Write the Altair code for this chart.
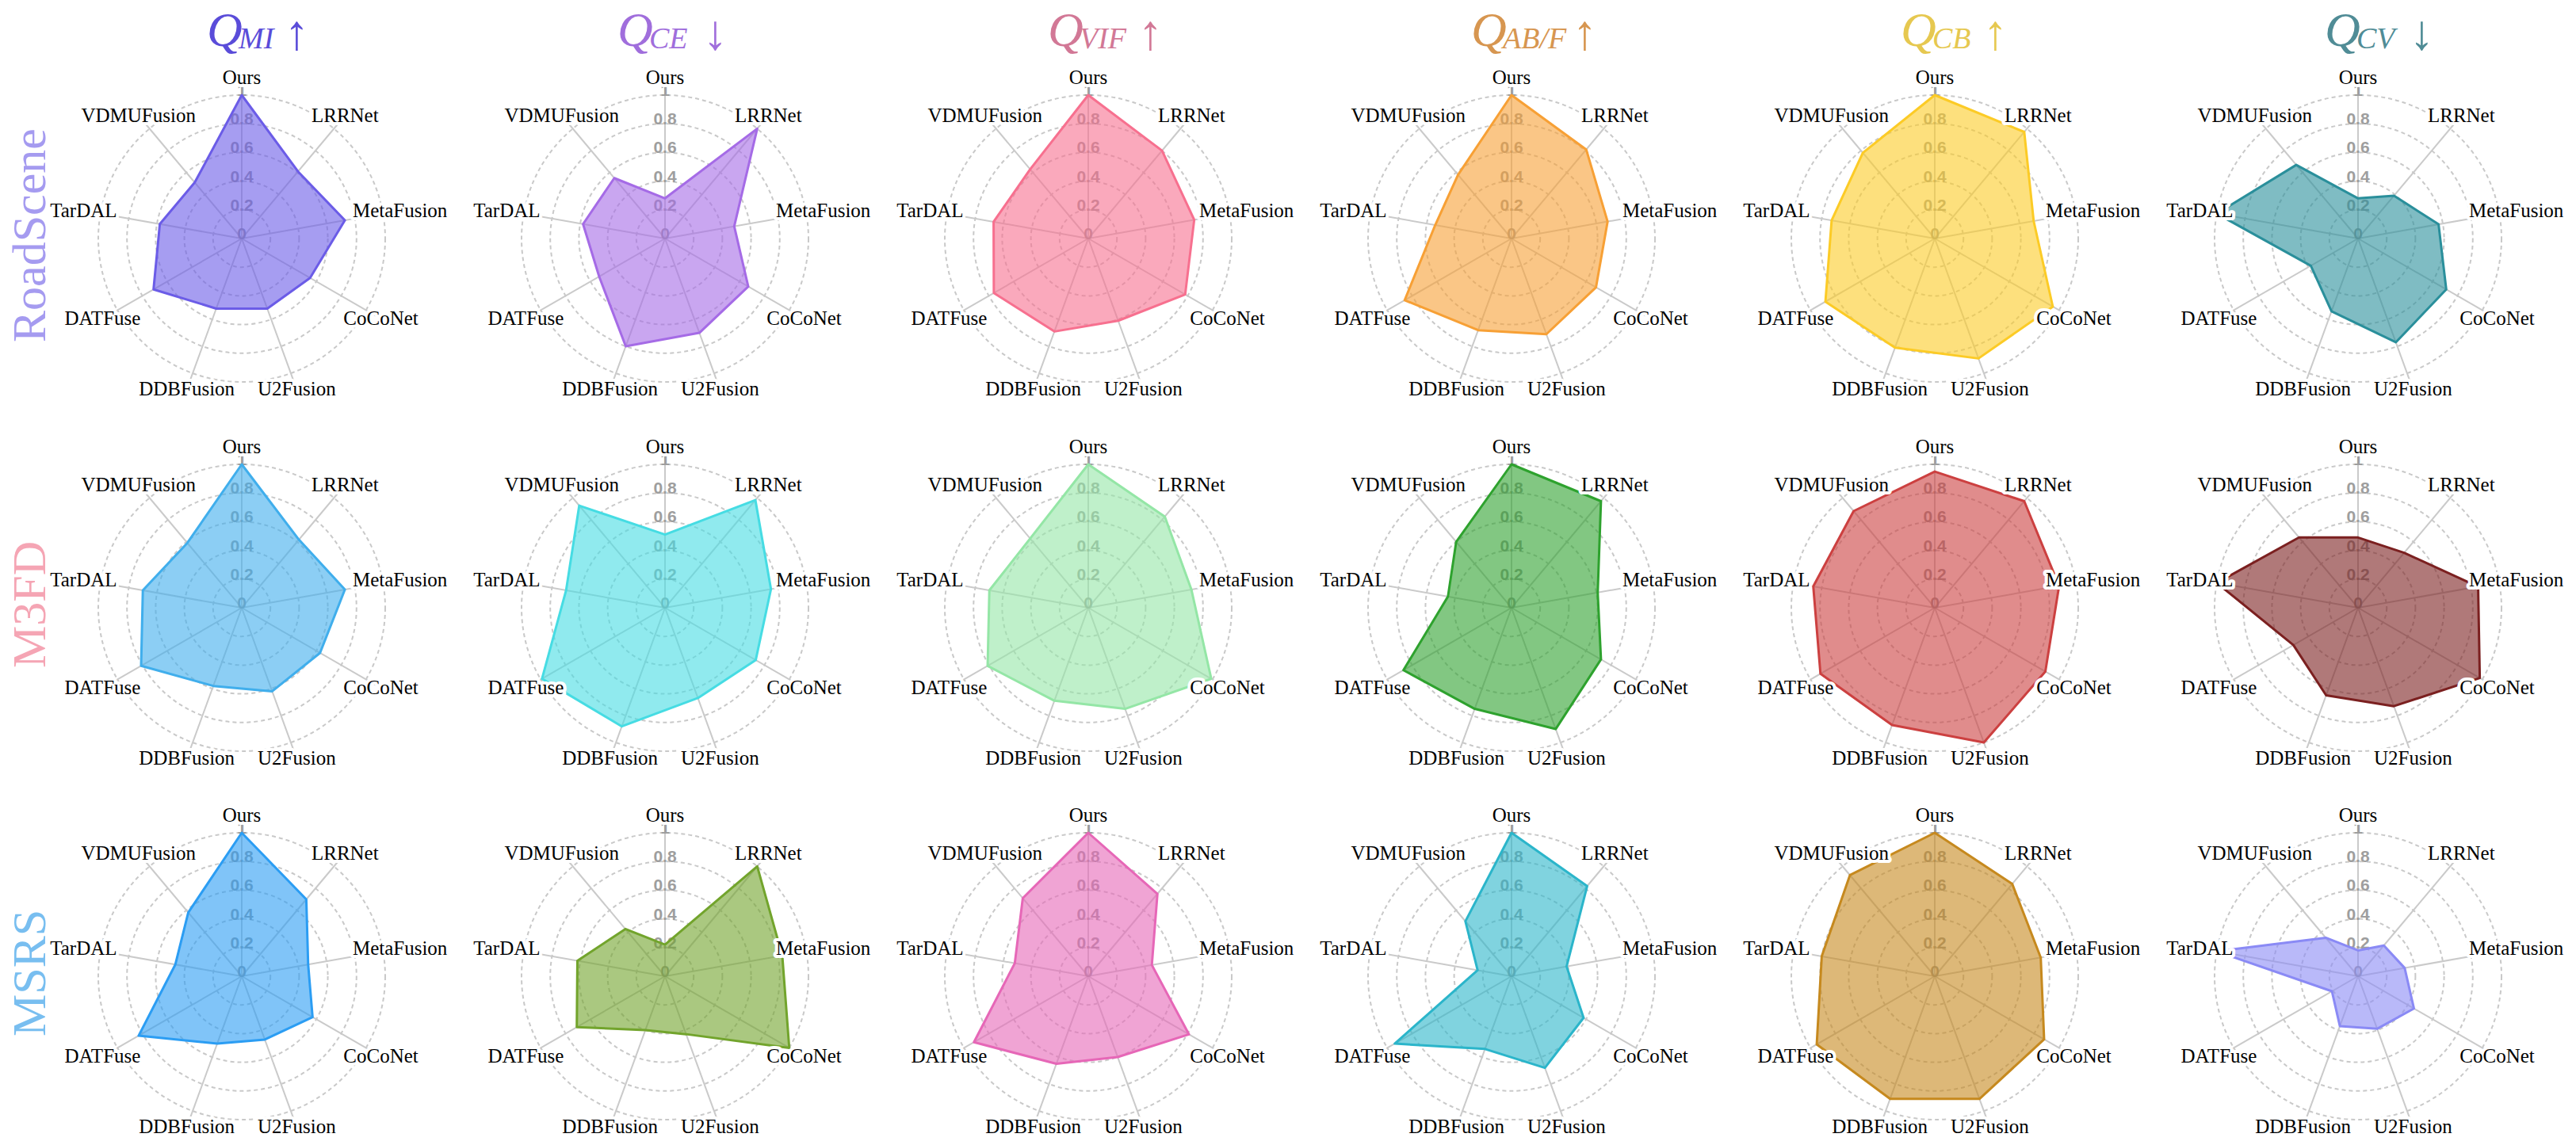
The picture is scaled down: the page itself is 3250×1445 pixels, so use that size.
import math
import altair as alt
import pandas as pd

# ---------------- data ----------------
methods = ["Ours", "LRRNet", "MetaFusion", "CoCoNet", "U2Fusion",
           "DDBFusion", "DATFuse", "TarDAL", "VDMUFusion"]
datasets = ["RoadScene", "M3FD", "MSRS"]
metric_subs = ["MI", "CE", "VIF", "AB/F", "CB", "CV"]
metric_arrows = ["↑", "↓", "↑", "↑", "↑", "↓"]
tick_values = [0, 0.2, 0.4, 0.6, 0.8, 1.0]
tick_labels = ["0", "0.2", "0.4", "0.6", "0.8", "1"]
ring_values = [0.2, 0.4, 0.6, 0.8, 1.0]

# order of every list: Ours, LRRNet, MetaFusion, CoCoNet, U2Fusion, DDBFusion, DATFuse, TarDAL, VDMUFusion
roadscene_mi = [1.00, 0.61, 0.73, 0.55, 0.52, 0.52, 0.71, 0.58, 0.51]
roadscene_ce = [0.28, 1.00, 0.49, 0.67, 0.70, 0.80, 0.53, 0.58, 0.55]
roadscene_vif = [1.00, 0.80, 0.75, 0.78, 0.61, 0.69, 0.76, 0.67, 0.63]
roadscene_abf = [1.00, 0.81, 0.68, 0.68, 0.71, 0.68, 0.86, 0.54, 0.58]
roadscene_cb = [1.00, 0.97, 0.70, 0.95, 0.89, 0.81, 0.88, 0.73, 0.78]
roadscene_cv = [0.28, 0.39, 0.57, 0.71, 0.77, 0.54, 0.38, 1.00, 0.67]

m3fd_mi = [1.00, 0.62, 0.73, 0.63, 0.62, 0.58, 0.81, 0.70, 0.59]
m3fd_ce = [0.51, 0.98, 0.75, 0.73, 0.67, 0.88, 0.99, 0.70, 0.93]
m3fd_vif = [1.00, 0.83, 0.73, 0.99, 0.75, 0.69, 0.81, 0.70, 0.63]
m3fd_abf = [1.00, 0.97, 0.61, 0.72, 0.90, 0.75, 0.87, 0.45, 0.60]
m3fd_cb = [0.95, 0.97, 0.88, 0.89, 1.00, 0.87, 0.92, 0.86, 0.88]
m3fd_cv = [0.49, 0.50, 0.85, 0.98, 0.73, 0.65, 0.52, 1.00, 0.64]

msrs_mi = [1.00, 0.70, 0.47, 0.57, 0.47, 0.50, 0.83, 0.47, 0.58]
msrs_ce = [0.22, 1.00, 0.83, 1.00, 0.43, 0.40, 0.71, 0.62, 0.43]
msrs_vif = [1.00, 0.75, 0.45, 0.81, 0.60, 0.65, 0.92, 0.52, 0.71]
msrs_abf = [1.00, 0.82, 0.39, 0.58, 0.68, 0.54, 0.94, 0.24, 0.50]
msrs_cb = [1.00, 0.84, 0.75, 0.88, 0.91, 0.91, 0.95, 0.80, 0.92]
msrs_cv = [0.18, 0.28, 0.33, 0.45, 0.39, 0.37, 0.21, 1.00, 0.35]

panel_values = [
    [roadscene_mi, roadscene_ce, roadscene_vif, roadscene_abf, roadscene_cb, roadscene_cv],
    [m3fd_mi, m3fd_ce, m3fd_vif, m3fd_abf, m3fd_cb, m3fd_cv],
    [msrs_mi, msrs_ce, msrs_vif, msrs_abf, msrs_cb, msrs_cv],
]

# ---------------- style ----------------
panel_colors = [
    ["#6B5CE7", "#A56BE6", "#F7708F", "#F7A035", "#FCCB26", "#2A8F9B"],
    ["#40AEEC", "#46DCE3", "#94E6A6", "#2EA22E", "#CC4040", "#7B2020"],
    ["#2B9DF3", "#72A42C", "#E667B7", "#2BB5CA", "#C6891E", "#8A8AF5"],
]
title_colors = ["#5A4CD9", "#A06EDC", "#D27896", "#D79650", "#E6C850", "#508C96"]
row_label_colors = ["#A59BF0", "#F5A5B4", "#78BEF0"]

K = 181.0          # pixels for a radius of 1
LEFT0 = 296        # first column: pixels left of centre
HALF_W = 267
ROW_TOP = [226, 233, 232]
ROW_BOT = [233, 233, 203]
TITLE_H = 67
SPOKE_R = 1.08
LABEL_R = 1.12
q_dx = [-44, -60, -51, -51, -43, -42]
arrow_dx = [54, 48, 63, 77, 61, 65]

N = len(methods)
ANG = "PI/2 - datum.idx*2*PI/%d" % N


def panel(vals, color, r, c):
    left = LEFT0 if c == 0 else HALF_W
    W = left + HALF_W
    top, bot = ROW_TOP[r], ROW_BOT[r]
    H = top + bot
    xs = alt.Scale(domain=[-left / K, HALF_W / K], nice=False, zero=False)
    ys = alt.Scale(domain=[-bot / K, top / K], nice=False, zero=False)

    df = pd.DataFrame({"method": methods, "idx": list(range(N)), "value": vals})
    base = alt.Chart(df).transform_calculate(ang=ANG)

    rings = alt.Chart(pd.DataFrame({"r": ring_values})).transform_calculate(
        cx="0", cy="0", s="pow(2*datum.r*%f, 2)" % K
    ).mark_point(
        shape="circle", filled=False, color="#C9C9C9", opacity=1,
        strokeWidth=2, strokeDash=[5, 4]
    ).encode(
        x=alt.X("cx:Q", scale=xs, axis=None),
        y=alt.Y("cy:Q", scale=ys, axis=None),
        size=alt.Size("s:Q", scale=None, legend=None),
    )

    spokes = base.transform_calculate(
        zx="0", zy="0",
        ex="%f*cos(datum.ang)" % SPOKE_R, ey="%f*sin(datum.ang)" % SPOKE_R,
    ).mark_rule(color="#CACACA", strokeWidth=2).encode(
        x=alt.X("zx:Q", scale=xs, axis=None),
        y=alt.Y("zy:Q", scale=ys, axis=None),
        x2="ex:Q", y2="ey:Q",
    )

    ticks = alt.Chart(pd.DataFrame({"t": tick_values, "lab": tick_labels})).transform_calculate(
        zx="0"
    ).mark_text(
        font="Liberation Sans", fontSize=21, fontWeight="bold", color="#9E9E9E",
        dy=-5, baseline="middle", align="center"
    ).encode(
        x=alt.X("zx:Q", scale=xs, axis=None),
        y=alt.Y("t:Q", scale=ys, axis=None),
        text="lab:N",
    )

    poly = base.transform_calculate(
        px="datum.value*cos(datum.ang)", py="datum.value*sin(datum.ang)"
    ).mark_line(
        color=color, fill=color, fillOpacity=0.6, strokeWidth=3,
        interpolate="linear-closed", strokeJoin="round"
    ).encode(
        x=alt.X("px:Q", scale=xs, axis=None),
        y=alt.Y("py:Q", scale=ys, axis=None),
        order=alt.Order("idx:Q"),
    )

    labs = base.transform_calculate(
        lx="%f*cos(datum.ang)" % LABEL_R, ly="%f*sin(datum.ang)" % LABEL_R
    )
    lab_enc = dict(
        x=alt.X("lx:Q", scale=xs, axis=None),
        y=alt.Y("ly:Q", scale=ys, axis=None),
        text="method:N",
    )
    halo = labs.mark_text(
        font="Liberation Serif", fontSize=25, color="white", stroke="white",
        strokeWidth=8, strokeJoin="round", baseline="middle", align="center"
    ).encode(**lab_enc)
    names = labs.mark_text(
        font="Liberation Serif", fontSize=25, color="black",
        baseline="middle", align="center"
    ).encode(**lab_enc)

    layers = [rings, spokes, ticks, poly, halo, names]
    if c == 0:
        rl = alt.Chart(pd.DataFrame({"name": [datasets[r]]})).mark_text(
            font="Liberation Serif", fontSize=60, angle=270, align="center",
            baseline="alphabetic", color=row_label_colors[r]
        ).encode(x=alt.value(48), y=alt.value(top - 4), text="name:N")
        layers.append(rl)
    return alt.layer(*layers).properties(width=W, height=H)


def title_chart(c):
    left = LEFT0 if c == 0 else HALF_W
    W = left + HALF_W
    cx = left
    d = pd.DataFrame({"q": ["Q"], "sub": [metric_subs[c]], "arrow": [metric_arrows[c]]})
    b = alt.Chart(d)
    col = title_colors[c]
    q = b.mark_text(font="Liberation Serif", fontStyle="italic", fontSize=62,
                    align="left", baseline="alphabetic", color=col).encode(
        x=alt.value(cx + q_dx[c]), y=alt.value(50), text="q:N")
    sub = b.mark_text(font="Liberation Serif", fontStyle="italic", fontSize=38,
                      align="left", baseline="alphabetic", color=col).encode(
        x=alt.value(cx + q_dx[c] + 40), y=alt.value(53), text="sub:N")
    arr = b.mark_text(font="Liberation Serif", fontSize=62,
                      align="left", baseline="alphabetic", color=col).encode(
        x=alt.value(cx + arrow_dx[c]), y=alt.value(54), text="arrow:N")
    return alt.layer(q, sub, arr).properties(width=W, height=TITLE_H)


title_row = alt.HConcatChart(hconcat=[title_chart(c) for c in range(6)], spacing=0)
rows = [
    alt.HConcatChart(
        hconcat=[panel(panel_values[r][c], panel_colors[r][c], r, c) for c in range(6)],
        spacing=0,
    )
    for r in range(3)
]

chart = alt.VConcatChart(
    vconcat=[title_row] + rows, spacing=0, padding=0, background="white"
).configure_view(stroke=None)

chart.save("out.html", embed_options={"renderer": "svg", "actions": False})
